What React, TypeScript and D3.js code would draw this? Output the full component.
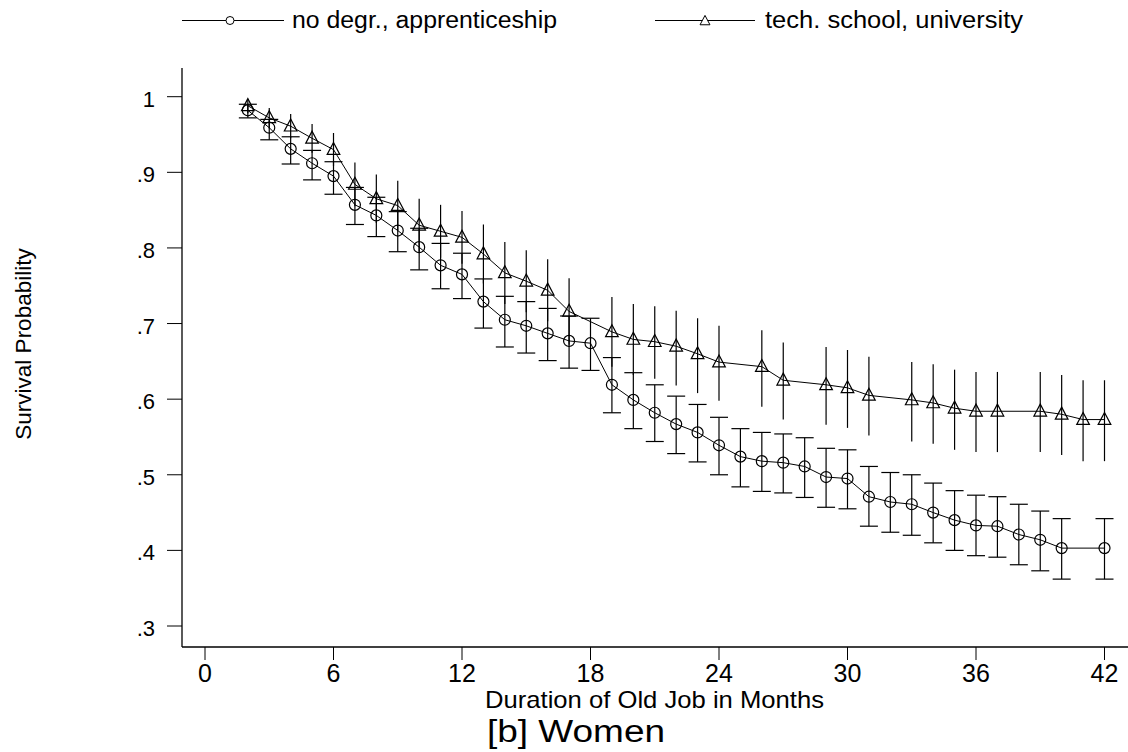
import React from "react";
import * as d3 from "d3";

// no degree / apprenticeship (circles, capped CIs)
const noDegrMonths = [2, 3, 4, 5, 6, 7, 8, 9, 10, 11, 12, 13, 14, 15, 16, 17, 18, 19, 20, 21, 22, 23, 24, 25, 26, 27, 28, 29, 30, 31, 32, 33, 34, 35, 36, 37, 38, 39, 40, 42];
const noDegrSurv = [0.982, 0.959, 0.931, 0.912, 0.895, 0.857, 0.843, 0.823, 0.801, 0.777, 0.765, 0.729, 0.705, 0.697, 0.687, 0.677, 0.674, 0.619, 0.599, 0.582, 0.567, 0.556, 0.539, 0.524, 0.518, 0.516, 0.511, 0.497, 0.495, 0.471, 0.464, 0.461, 0.45, 0.44, 0.433, 0.432, 0.421, 0.414, 0.403, 0.403];
const noDegrLo = [0.972, 0.943, 0.911, 0.89, 0.871, 0.831, 0.815, 0.795, 0.771, 0.746, 0.733, 0.694, 0.669, 0.661, 0.651, 0.641, 0.638, 0.582, 0.561, 0.544, 0.528, 0.517, 0.5, 0.484, 0.478, 0.476, 0.47, 0.457, 0.455, 0.432, 0.424, 0.42, 0.41, 0.4, 0.393, 0.391, 0.381, 0.373, 0.362, 0.362];
const noDegrHi = [0.99, 0.97, 0.947, 0.929, 0.914, 0.88, 0.867, 0.848, 0.826, 0.806, 0.793, 0.759, 0.736, 0.729, 0.72, 0.71, 0.707, 0.655, 0.635, 0.619, 0.604, 0.593, 0.576, 0.561, 0.556, 0.554, 0.549, 0.535, 0.533, 0.511, 0.503, 0.5, 0.489, 0.479, 0.473, 0.471, 0.461, 0.452, 0.442, 0.442];

// tech. school / university (triangles, spike CIs)
const techMonths = [2, 3, 4, 5, 6, 7, 8, 9, 10, 11, 12, 13, 14, 15, 16, 17, 19, 20, 21, 22, 23, 24, 26, 27, 29, 30, 31, 33, 34, 35, 36, 37, 39, 40, 41, 42];
const techSurv = [0.988, 0.972, 0.961, 0.945, 0.93, 0.884, 0.865, 0.856, 0.83, 0.822, 0.814, 0.792, 0.767, 0.756, 0.744, 0.716, 0.689, 0.679, 0.676, 0.67, 0.66, 0.649, 0.643, 0.625, 0.619, 0.615, 0.605, 0.599, 0.595, 0.588, 0.584, 0.584, 0.584, 0.58, 0.573, 0.573];
const techLo = [0.978, 0.958, 0.945, 0.926, 0.908, 0.855, 0.833, 0.823, 0.795, 0.787, 0.779, 0.753, 0.726, 0.715, 0.703, 0.672, 0.643, 0.632, 0.627, 0.618, 0.608, 0.598, 0.59, 0.573, 0.566, 0.562, 0.552, 0.544, 0.541, 0.533, 0.53, 0.53, 0.53, 0.526, 0.518, 0.518];
const techHi = [0.996, 0.985, 0.977, 0.964, 0.952, 0.913, 0.897, 0.889, 0.865, 0.857, 0.849, 0.831, 0.808, 0.797, 0.785, 0.76, 0.735, 0.726, 0.723, 0.717, 0.707, 0.697, 0.691, 0.675, 0.669, 0.665, 0.656, 0.649, 0.646, 0.639, 0.636, 0.636, 0.636, 0.632, 0.625, 0.625];

const xTicks = [0, 6, 12, 18, 24, 30, 36, 42];
const yTicks = [0.3, 0.4, 0.5, 0.6, 0.7, 0.8, 0.9, 1];
const yTickLabels = [".3", ".4", ".5", ".6", ".7", ".8", ".9", "1"];

const width = 1128;
const height = 752;
const font = "'Liberation Sans', Arial, Helvetica, sans-serif";

const xScale = d3.scaleLinear().domain([0, 42]).range([205, 1104.5]);
const yScale = d3.scaleLinear().domain([0.3, 1]).range([626, 96.7]);

const triPath = (cx: number, cy: number, s: number) =>
  `M${cx},${cy - s * 0.62}L${cx + s * 0.55},${cy + s * 0.42}L${cx - s * 0.55},${cy + s * 0.42}Z`;

const App = () => {
  const line = d3
    .line<number>()
    .x((d) => d[0])
    .y((d) => d[1]);

  const noDegrPts = noDegrMonths.map((m, i) => [xScale(m), yScale(noDegrSurv[i])] as any);
  const techPts = techMonths.map((m, i) => [xScale(m), yScale(techSurv[i])] as any);

  const axisY = 182;
  const axisX = 647;

  return (
    <svg
      width={width}
      height={height}
      style={{ position: "absolute", left: 0, top: 0, background: "#fff" }}
      fontFamily={font}
    >
      {/* legend */}
      <g>
        <line x1={182} x2={284} y1={20.5} y2={20.5} stroke="#000" strokeWidth={1} />
        <circle cx={230} cy={20.5} r={4} fill="#fff" stroke="#000" strokeWidth={1} />
        <text x={292} y={28} fontSize={23.5} textLength={265} lengthAdjust="spacingAndGlyphs">
          no degr., apprenticeship
        </text>
        <line x1={655} x2={755} y1={20.5} y2={20.5} stroke="#000" strokeWidth={1} />
        <path d={triPath(705, 21, 9)} fill="#fff" stroke="#000" strokeWidth={1} />
        <text x={765} y={28} fontSize={23.5} textLength={258} lengthAdjust="spacingAndGlyphs">
          tech. school, university
        </text>
      </g>

      {/* axes */}
      <line x1={axisY} x2={axisY} y1={68} y2={axisX} stroke="#000" strokeWidth={1.3} />
      <line x1={axisY} x2={width} y1={axisX} y2={axisX} stroke="#000" strokeWidth={1.3} />
      {yTicks.map((t, i) => (
        <g key={"y" + i}>
          <line x1={167} x2={axisY} y1={yScale(t)} y2={yScale(t)} stroke="#000" strokeWidth={1} />
          <text x={155} y={yScale(t) + 10} fontSize={22} textAnchor="end">
            {yTickLabels[i]}
          </text>
        </g>
      ))}
      {xTicks.map((t) => (
        <g key={"x" + t}>
          <line x1={xScale(t)} x2={xScale(t)} y1={axisX} y2={660} stroke="#000" strokeWidth={1} />
          <text x={xScale(t)} y={682} fontSize={25} textAnchor="middle">
            {t}
          </text>
        </g>
      ))}
      <text transform={`translate(31,344) rotate(-90)`} fontSize={22.5} textAnchor="middle">
        Survival Probability
      </text>
      <text x={654.5} y={708} fontSize={24} textAnchor="middle" textLength={339} lengthAdjust="spacingAndGlyphs">
        Duration of Old Job in Months
      </text>
      <text x={576} y={742} fontSize={31} textAnchor="middle" textLength={178} lengthAdjust="spacingAndGlyphs">
        [b] Women
      </text>

      {/* CI bars */}
      {techMonths.map((m, i) => (
        <line
          key={"ts" + m}
          x1={xScale(m)}
          x2={xScale(m)}
          y1={yScale(techLo[i])}
          y2={yScale(techHi[i])}
          stroke="#000"
          strokeWidth={1.2}
        />
      ))}
      {noDegrMonths.map((m, i) => {
        const x = xScale(m);
        return (
          <g key={"nc" + m} stroke="#000" strokeWidth={1.2}>
            <line x1={x} x2={x} y1={yScale(noDegrLo[i])} y2={yScale(noDegrHi[i])} />
            <line x1={x - 9} x2={x + 9} y1={yScale(noDegrLo[i])} y2={yScale(noDegrLo[i])} />
            <line x1={x - 9} x2={x + 9} y1={yScale(noDegrHi[i])} y2={yScale(noDegrHi[i])} />
          </g>
        );
      })}

      {/* survival lines */}
      <path d={line(noDegrPts) || ""} fill="none" stroke="#000" strokeWidth={1} />
      <path d={line(techPts) || ""} fill="none" stroke="#000" strokeWidth={1} />

      {noDegrPts.map((p: number[], i: number) => (
        <circle key={"c" + i} cx={p[0]} cy={p[1]} r={5.5} fill="none" stroke="#000" strokeWidth={1.2} />
      ))}
      {techPts.map((p: number[], i: number) => (
        <path key={"t" + i} d={triPath(p[0], p[1], 11.5)} fill="none" stroke="#000" strokeWidth={1.2} />
      ))}
    </svg>
  );
};

export default App;
